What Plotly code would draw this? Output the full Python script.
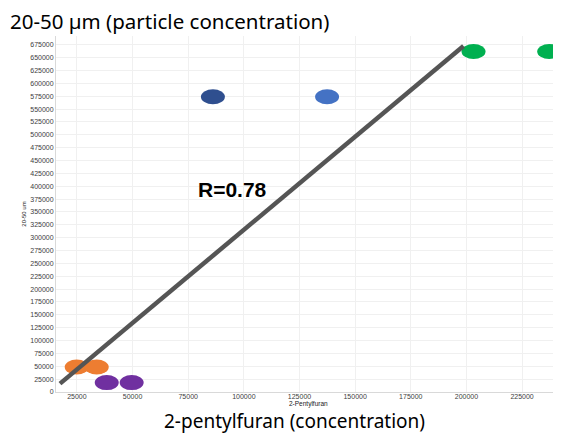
import plotly.graph_objects as go

# data
pentylfuran = [203200, 237200, 86100, 137400, 24900, 33900, 38400, 49600]
particles = [662000, 662000, 573800, 573800, 48700, 48700, 18300, 18300]
colors = ["#00B050", "#00B050", "#2F4F8F", "#4472C4", "#ED7D31", "#ED7D31", "#7030A0", "#7030A0"]
fit_x = [17400, 198700]
fit_y = [16300, 672500]
r_label = "R=0.78"
x_ticks = [25000, 50000, 75000, 100000, 125000, 150000, 175000, 200000, 225000]
y_ticks = list(range(0, 675001, 25000))

# the page body adds an 8px offset; the figure is sized to fill the rest of the window
OFF = 8
W, H = 561 - OFF, 434 - OFF
ML, MT, MB = 56 - OFF, 36 - OFF, 42
PW, PH = W - ML, H - MT - MB

fig = go.Figure()
fig.add_trace(go.Scatter(x=pentylfuran, y=particles, mode="markers",
                         marker=dict(size=1, color="rgba(0,0,0,0)"), showlegend=False,
                         hoverinfo="x+y"))
fig.add_trace(go.Scatter(x=fit_x, y=fit_y, mode="lines",
                         line=dict(color="#555555", width=4.5), showlegend=False))

for xv, yv, c in zip(pentylfuran, particles, colors):
    fig.add_shape(type="circle", xref="x", yref="y",
                  xsizemode="pixel", ysizemode="pixel",
                  xanchor=xv, yanchor=yv, x0=-12, x1=12, y0=-7.5, y1=7.5,
                  fillcolor=c, line=dict(width=0), layer="between")

fig.add_annotation(x=94800, y=393000, xref="x", yref="y", text="<b>" + r_label + "</b>",
                   showarrow=False, font=dict(family="Liberation Sans, Arial", size=21, color="#000000"))

# small x-axis title
fig.add_annotation(x=0.5, y=(392 - 404.3) / PH, xref="paper", yref="paper",
                   text="2-Pentylfuran", showarrow=False, xanchor="center", yanchor="middle",
                   font=dict(family="Liberation Sans, Arial", size=6.5, color="#202020"))

fig.add_annotation(x=(294 - 56) / PW, y=(392 - 421) / PH, xref="paper", yref="paper",
                   text="2-pentylfuran (concentration)", showarrow=False,
                   xanchor="center", yanchor="middle",
                   font=dict(family="Noto Sans", size=19, color="#000000"))

fig.update_layout(
    width=W, height=H,
    margin=dict(l=ML, r=0, t=MT, b=MB, pad=0),
    paper_bgcolor="white", plot_bgcolor="white",
    title=dict(text="20-50 µm (particle concentration)", x=(10 - OFF) / W, xref="container",
               xanchor="left", y=1 - (21.5 - OFF) / H, yref="container", yanchor="middle",
               font=dict(family="Noto Sans", size=20.5, color="#000000")),
    xaxis=dict(range=[15600, 242500], tickvals=x_ticks, ticktext=[str(v) for v in x_ticks],
               showgrid=True, gridcolor="#f0f0f0", gridwidth=1, zeroline=False,
               showline=True, linecolor="#d9d9d9", linewidth=1, automargin=False,
               tickfont=dict(family="Liberation Sans, Arial", size=7, color="#404040"),
               ticks="", ticklen=0, ticklabelstandoff=-2),
    yaxis=dict(range=[0, 692000], tickvals=y_ticks, ticktext=[str(v) for v in y_ticks],
               showgrid=True, gridcolor="#f0f0f0", gridwidth=1, zeroline=False,
               showline=True, linecolor="#d9d9d9", linewidth=1, automargin=False,
               tickfont=dict(family="Liberation Sans, Arial", size=7, color="#404040"),
               ticks="", ticklen=0,
               title=dict(text="20-50 um", standoff=3,
                          font=dict(family="Liberation Sans, Arial", size=6, color="#202020"))),
)

fig.write_html("out.html")
